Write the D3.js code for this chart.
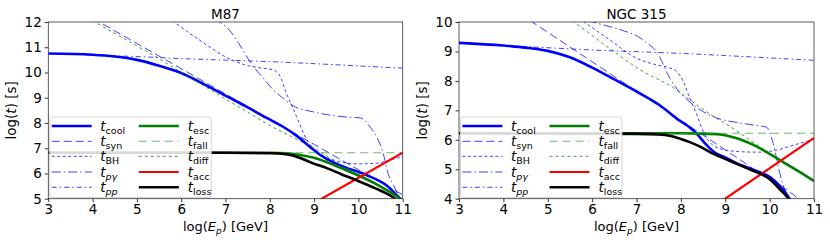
<!DOCTYPE html>
<html><head><meta charset="utf-8">
<script src="https://cdn.jsdelivr.net/npm/d3@7"></script>
<style>body{margin:0;background:#fff}svg{font-family:"DejaVu Sans",sans-serif}</style>
</head><body><svg id="c" width="830" height="244"></svg>
<script>
// ---- data (log E_p [GeV], log t [s]) ----
const xTicks = [3,4,5,6,7,8,9,10,11];
const m87YTicks = [5,6,7,8,9,10,11,12];
const ngcYTicks = [4,5,6,7,8,9,10];

const m87Cool = [[3,10.75],[4,10.7],[4.5,10.63],[5,10.5],[5.5,10.27],[6,9.98],[6.5,9.55],[7,9.08],[7.5,8.62],[7.93,8.2],[8.3,7.85],[8.6,7.5],[8.91,7.05],[9.1,6.78],[9.3,6.56],[9.66,6.27],[10.19,5.93],[10.64,5.52],[10.9,5.08],[11,4.92]];
const m87Syn = [[4,12.15],[5,11.15],[6,10.15],[7,9.15],[8,8.15],[9,7.15],[10,6.15],[11,5.15]];
const m87BH = [[5.8,12.05],[6.4,11.3],[7,10.62],[7.5,10.27],[7.8,10.18],[8.08,10.1],[8.23,9.85],[8.38,9.15],[8.53,8.55],[8.68,7.93],[8.8,7.45],[8.98,7.0],[9.2,6.7],[9.5,6.5],[9.96,6.38],[10.4,6.4],[10.7,6.52],[11,6.68]];
const m87Pg = [[6.75,12.15],[6.87,12.0],[7.1,11.65],[7.3,11.15],[7.63,10.23],[7.85,9.78],[8.08,9.31],[8.3,8.98],[8.53,8.68],[8.98,8.44],[9.4,8.3],[9.7,8.24],[10.04,8.2],[10.15,8.1],[10.26,7.85],[10.41,7.46],[10.56,6.8],[10.67,6.0],[10.79,5.55],[10.9,5.15],[11,4.9]];
const m87Pp = [[3,10.75],[4,10.69],[5,10.63],[6,10.55],[7,10.49],[8,10.43],[9,10.35],[10,10.26],[11,10.17]];
const m87Esc = [[3,6.82],[8,6.82],[8.4,6.8],[8.69,6.73],[9.0,6.62],[9.28,6.45],[9.6,6.22],[10,5.92],[10.4,5.58],[10.64,5.34],[10.94,5.0],[11,4.93]];
const m87Fall = [[3,6.82],[11,6.82]];
const m87Diff = [[4,12.05],[4.85,11.2],[5.5,10.55],[6,10.0],[6.5,9.48],[7,8.95],[7.7,8.22],[8,7.9],[8.5,7.45],[9,7.0],[9.5,6.46],[10,5.98],[10.5,5.5],[11,4.98]];
const m87Acc = [[9.1,4.93],[11,6.82]];
const m87Loss = [[3,6.82],[7,6.82],[8,6.8],[8.2,6.79],[8.5,6.72],[8.7,6.6],[8.95,6.42],[9.3,6.2],[9.6,5.98],[10,5.7],[10.4,5.4],[10.64,5.2],[10.8,5.03],[10.86,4.94]];

const ngcCool = [[3,9.29],[4,9.2],[4.5,9.13],[5,9.02],[5.5,8.8],[6,8.45],[6.5,8.05],[7,7.64],[7.5,7.2],[7.98,6.64],[8.2,6.42],[8.36,6.2],[8.55,5.87],[8.73,5.6],[9,5.4],[9.26,5.2],[9.5,5.06],[9.78,4.9],[10,4.74],[10.15,4.55],[10.31,4.3],[10.46,3.98],[10.5,3.9]];
const ngcSyn = [[4.6,10.05],[5,9.65],[6,8.65],[7,7.65],[8,6.66],[9,5.66],[10,4.64],[10.65,3.98],[10.7,3.9]];
const ngcBH = [[5.8,10.02],[6.4,9.39],[7,8.77],[7.46,8.54],[7.75,8.44],[7.9,8.33],[8.05,7.99],[8.2,7.42],[8.36,6.85],[8.47,6.4],[8.6,6.02],[8.88,5.7],[9.3,5.6],[9.7,5.58],[10.16,5.65],[10.5,5.8],[11,6.02]];
const ngcPg = [[5.9,10.05],[6.3,9.88],[6.63,9.74],[7.08,9.46],[7.23,9.29],[7.45,9.0],[7.75,8.1],[7.98,7.6],[8.13,7.38],[8.4,7.05],[8.81,6.74],[9.3,6.58],[9.78,6.47],[9.93,6.43],[10.0,6.25],[10.08,5.88],[10.23,4.86],[10.38,4.13],[10.45,3.9]];
const ngcPp = [[3,9.28],[4,9.2],[4.83,9.14],[6,9.05],[7.75,8.95],[9,8.86],[10,8.78],[11,8.7]];
const ngcEsc = [[3,6.22],[8,6.22],[8.5,6.21],[8.88,6.18],[9.26,6.05],[9.71,5.77],[10.23,5.31],[10.61,4.97],[11,4.6]];
const ngcFall = [[3,6.22],[11,6.22]];
const ngcDiff = [[5.55,10.03],[5.58,10.0],[6.33,9.17],[7.08,8.38],[7.9,7.7],[8.2,7.36],[8.73,6.8],[9.1,6.46],[9.5,6.05],[10,5.55],[10.5,5.1],[11,4.62]];
const ngcAcc = [[8.9,3.9],[11,6.06]];
const ngcLoss = [[3,6.22],[7,6.2],[7.5,6.18],[7.75,6.14],[8,6.03],[8.2,5.92],[8.43,5.77],[8.7,5.55],[8.88,5.43],[9.2,5.22],[9.56,4.99],[10.01,4.65],[10.23,4.32],[10.42,4.0],[10.46,3.9]];

const seriesNames = ["cool","syn","BH","pg","pp","esc","fall","diff","acc","loss"];
const styles = {
  cool:{c:"#0000ff",w:2.6,d:null,o:1},
  syn:{c:"#0000ff",w:1,d:"8,4",o:0.75},
  BH:{c:"#0000ff",w:1,d:"3,2.5",o:0.75},
  pg:{c:"#0000ff",w:1,d:"9,3,1.5,3",o:0.75},
  pp:{c:"#0000ff",w:1,d:"5,3,1.5,3",o:0.75},
  esc:{c:"#008000",w:2.6,d:null,o:1},
  fall:{c:"#2ca02c",w:1.1,d:"8,5",o:0.7},
  diff:{c:"#008000",w:1,d:"3,3",o:0.75},
  acc:{c:"#ff0000",w:2.2,d:null,o:1},
  loss:{c:"#000000",w:2.6,d:null,o:1}
};
const legendLabels = {cool:["cool",false],syn:["syn",false],BH:["BH",false],pg:["pγ",true],pp:["pp",true],
  esc:["esc",false],fall:["fall",false],diff:["diff",false],acc:["acc",false],loss:["loss",false]};

const panels = [
  {title:"M87", x0:48.3, x1:402.7, yd:[5,12], yt:m87YTicks,
   data:{cool:m87Cool,syn:m87Syn,BH:m87BH,pg:m87Pg,pp:m87Pp,esc:m87Esc,fall:m87Fall,diff:m87Diff,acc:m87Acc,loss:m87Loss}},
  {title:"NGC 315", x0:459, x1:814, yd:[4,10], yt:ngcYTicks,
   data:{cool:ngcCool,syn:ngcSyn,BH:ngcBH,pg:ngcPg,pp:ngcPp,esc:ngcEsc,fall:ngcFall,diff:ngcDiff,acc:ngcAcc,loss:ngcLoss}}
];
const yTop = 22, yBot = 198.7;
const svg = d3.select("#c");

panels.forEach((p,i)=>{
  const x = d3.scaleLinear().domain([3,11]).range([p.x0,p.x1]);
  const y = d3.scaleLinear().domain(p.yd).range([yBot,yTop]);
  const g = svg.append("g");
  const cid = "clip"+i;
  g.append("clipPath").attr("id",cid).append("rect")
    .attr("x",p.x0).attr("y",yTop).attr("width",p.x1-p.x0).attr("height",yBot-yTop);
  const line = d3.line().x(d=>x(d[0])).y(d=>y(d[1])).curve(d3.curveMonotoneX);
  const lg = g.append("g").attr("clip-path",`url(#${cid})`);
  seriesNames.forEach(k=>{
    const s = styles[k];
    lg.append("path").datum(p.data[k]).attr("d",line)
      .attr("fill","none").attr("stroke",s.c).attr("stroke-width",s.w)
      .attr("stroke-opacity",s.o).attr("stroke-dasharray",s.d)
      .attr("stroke-linejoin","round");
  });
  // axes
  const xa = g.append("g").attr("transform",`translate(0,${yBot})`)
    .call(d3.axisBottom(x).tickValues(xTicks).tickSize(3.5).tickPadding(2).tickFormat(d3.format("d")));
  const ya = g.append("g").attr("transform",`translate(${p.x0},0)`)
    .call(d3.axisLeft(y).tickValues(p.yt).tickSize(3.5).tickPadding(3).tickFormat(d3.format("d")));
  [xa,ya].forEach(a=>{
    a.select(".domain").remove();
    a.selectAll("text").attr("font-size",13.5).attr("font-family","DejaVu Sans").attr("fill","#000");
    a.selectAll("line").attr("stroke","#000").attr("stroke-width",0.8);
  });
  // legend
  const lx = p.x0;
  const leg = g.append("g");
  leg.append("rect").attr("x",lx+1.5).attr("y",117).attr("width",161.5).attr("height",80.5)
    .attr("rx",2.5).attr("fill","#fff").attr("fill-opacity",0.85).attr("stroke","#cccccc").attr("stroke-width",0.8);
  const rows = [126,141.3,156.3,172,187.3];
  seriesNames.forEach((k,j)=>{
    const col = j<5?0:1, r = j%5;
    const hx = lx + (col===0?3.4:90.5);
    const tx = lx + (col===0?52:139.5);
    const yy = rows[r];
    const s = styles[k];
    leg.append("line").attr("x1",hx).attr("x2",hx+40).attr("y1",yy).attr("y2",yy)
      .attr("stroke",s.c).attr("stroke-width",s.w).attr("stroke-opacity",s.o).attr("stroke-dasharray",s.d);
    const t = leg.append("text").attr("x",tx).attr("y",yy+4.5).attr("font-size",13.5).attr("font-family","DejaVu Sans");
    t.append("tspan").attr("font-style","italic").text("t");
    t.append("tspan").attr("font-size",9.5).attr("dy",3).attr("font-style",legendLabels[k][1]?"italic":"normal").text(legendLabels[k][0]);
  });
  // frame
  g.append("rect").attr("x",p.x0).attr("y",yTop).attr("width",p.x1-p.x0).attr("height",yBot-yTop)
    .attr("fill","none").attr("stroke","#333").attr("stroke-width",0.8);
  // title
  g.append("text").attr("x",(p.x0+p.x1)/2).attr("y",19).attr("text-anchor","middle")
    .attr("font-size",13.5).text(p.title);
  // x label
  const xl = g.append("text").attr("x",(p.x0+p.x1)/2).attr("y",230.5).attr("text-anchor","middle").attr("font-size",13);
  xl.append("tspan").text("log(");
  xl.append("tspan").attr("font-style","italic").text("E");
  xl.append("tspan").attr("font-style","italic").attr("font-size",9).attr("dy",3).text("p");
  xl.append("tspan").attr("dy",-3).text(") [GeV]");
  // y label
  const yl = g.append("text").attr("transform",`translate(${p.x0-32},${(yTop+yBot)/2}) rotate(-90)`)
    .attr("text-anchor","middle").attr("font-size",13.5);
  yl.append("tspan").text("log(");
  yl.append("tspan").attr("font-style","italic").text("t");
  yl.append("tspan").text(") [s]");
});
</script></body></html>
